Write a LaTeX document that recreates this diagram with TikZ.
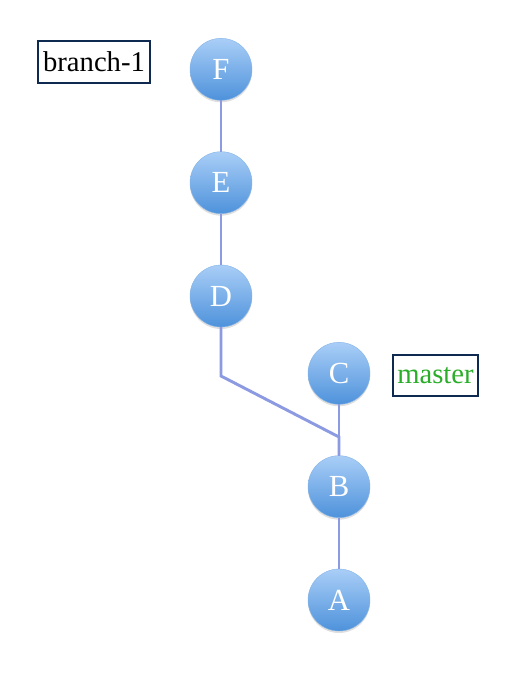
\documentclass[tikz,border=0pt]{standalone}
\usepackage{fontspec}
\setmainfont{Liberation Serif}
\usetikzlibrary{positioning, shadows}
\definecolor{commitTop}{HTML}{A9CEF7}
\definecolor{commitBot}{HTML}{4E92DB}
\definecolor{edgeCol}{HTML}{8C9AE2}
\definecolor{refBorder}{HTML}{0E2A50}
\definecolor{masterGreen}{HTML}{2AAE2A}

\begin{document}
\begin{tikzpicture}[x=0.75pt, y=-0.75pt, node distance=38.5pt,
		commit/.style={circle, minimum size=46.5pt, inner sep=0pt, outer sep=0pt, draw=commitBot!70, line width=0.3pt, top color=commitTop, bottom color=commitBot, text=white, font=\fontsize{23}{23}\selectfont, drop shadow={opacity=0.25, shadow xshift=0pt, shadow yshift=-1.5pt}},
		ref/.style={draw=refBorder, line width=1.5pt, fill=white, minimum height=31pt, inner xsep=3.5pt, font=\fontsize{21.5}{21.5}\selectfont},
		link/.style={draw=edgeCol, line width=2.2pt}]
		\useasboundingbox (0,0) rectangle (518,684);
		% commits on master
		\node[commit] (A) at (339,600) {A};
		\node[commit] (B) [above=of A] {B};
		\node[commit] (C) [above=of B] {C};
		% commits on branch-1
		\node[commit] (D) at (221,296) {D};
		\node[commit] (E) [above=of D] {E};
		\node[commit] (F) [above=of E] {F};
		% refs
		\node[ref] (branch) at (94,62) {branch-1};
		\node[ref, text=masterGreen] (master) at (435.5,375.5) {master};
		% links
		\coordinate (j1) at (221,376); \coordinate (j2) at (339,437);
		\path[link] (D) -- (j1) -- (j2) -- (B);
		\path[link] (C) -- (B); \path[link] (A) -- (B);
		\path[link] (D) -- (E); \path[link] (E) -- (F);
	\end{tikzpicture}
\end{document}
